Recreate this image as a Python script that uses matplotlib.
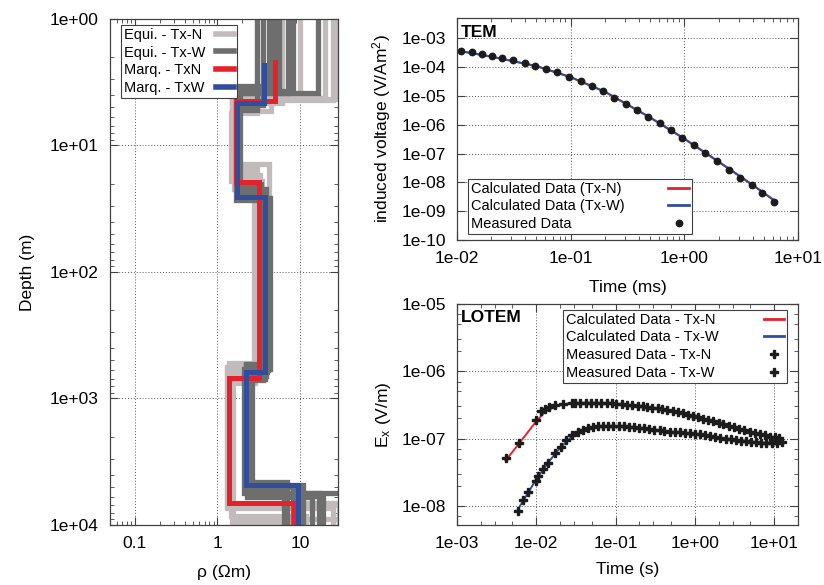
import matplotlib
matplotlib.use("Agg")
import matplotlib.pyplot as plt
from matplotlib.ticker import LogLocator, FuncFormatter, NullFormatter

plt.rcParams["font.family"] = ["Liberation Sans", "DejaVu Sans"]
plt.rcParams["mathtext.fontset"] = "custom"
plt.rcParams["mathtext.rm"] = "Liberation Sans"
plt.rcParams["mathtext.it"] = "Liberation Sans:italic"

# --- 1D models: layer resistivities (Ohm m) and interface depths (m) ---
equi_txn_rho = [
    [25, 1.50, 3.0, 1.30, 40],
    [20, 1.55, 3.3, 1.35, 30],
    [10, 1.60, 2.8, 1.45, 12],
    [3.0, 1.47, 3.5, 1.30, 25],
    [4.5, 1.60, 3.8, 1.50, 8],
    [27, 1.50, 4.2, 1.40, 18],
    [6.0, 1.65, 2.9, 1.55, 50],
]
equi_txn_depth = [
    [4.4, 15, 580, 7000],
    [4.2, 17, 600, 6700],
    [4.0, 16, 650, 8500],
    [5.5, 19, 560, 7300],
    [5.3, 22, 700, 9600],
    [4.3, 14, 520, 6900],
    [4.6, 18, 750, 9000],
]
equi_txw_rho = [
    [3.0, 1.80, 3.5, 2.20, 7.0],
    [3.6, 1.70, 4.0, 2.40, 8.2],
    [4.2, 1.75, 3.8, 2.50, 17],
    [4.9, 1.85, 4.3, 2.10, 40],
    [5.6, 1.90, 3.6, 2.60, 11],
    [7.2, 1.70, 3.9, 2.30, 14],
    [8.2, 1.80, 3.4, 2.20, 6.5],
    [16.5, 1.75, 4.1, 2.45, 19],
]
equi_txw_depth = [
    [5.2, 25, 530, 4600],
    [4.8, 27, 620, 5000],
    [3.4, 23, 700, 5600],
    [3.6, 26, 580, 5600],
    [3.8, 24, 720, 4800],
    [3.85, 22, 660, 6000],
    [3.7, 20, 540, 5200],
    [3.85, 26, 600, 5900],
]
marq_txn_rho = [5.0, 1.69, 3.2, 1.40, 8.5]
marq_txn_depth = [4.45, 19.4, 689, 6700]
marq_txw_rho = [3.7, 1.74, 3.8, 2.24, 9.4]
marq_txw_depth = [4.6, 25.5, 617, 4830]

# --- TEM transient (time in ms) ---
tem_t = [0.0109, 0.01355, 0.0166, 0.0203, 0.0249, 0.0313, 0.0394, 0.0489, 0.0611,
         0.0764, 0.0967, 0.1225, 0.154, 0.194, 0.242, 0.305, 0.384, 0.482, 0.607,
         0.758, 0.953, 1.21, 1.52, 1.92, 2.45, 3.09, 3.91, 4.85, 6.11]
tem_meas = [3.52e-4, 3.25e-4, 2.77e-4, 2.35e-4, 2.0e-4, 1.71e-4, 1.38e-4, 1.11e-4,
            8.5e-5, 6.5e-5, 4.6e-5, 3.16e-5, 2.12e-5, 1.42e-5, 8.7e-6, 5.4e-6,
            3.25e-6, 1.9e-6, 1.11e-6, 6.3e-7, 3.5e-7, 1.9e-7, 1.05e-7, 5.5e-8,
            2.77e-8, 1.46e-8, 8.1e-9, 4.25e-9, 2.12e-9]
tem_calc_t = [0.0105, 0.02, 0.05, 0.1, 0.2, 0.5, 1.0, 2.0, 4.0, 6.3]
tem_calc_txn = [3.6e-4, 2.3e-4, 1.07e-4, 4.4e-5, 1.37e-5, 1.75e-6, 3.2e-7, 5.1e-8, 7.9e-9, 2.3e-9]
tem_calc_txw = [3.6e-4, 2.3e-4, 1.08e-4, 4.5e-5, 1.4e-5, 1.8e-6, 3.3e-7, 5.3e-8, 8.2e-9, 2.2e-9]

# --- LOTEM transients (time in s) ---
lotem_txn_t = [0.0041, 0.0061, 0.01005, 0.0116, 0.0128, 0.0144, 0.0171, 0.0218, 0.0283,
               0.031, 0.036, 0.042, 0.049, 0.057, 0.066, 0.077, 0.089, 0.10, 0.12,
               0.14, 0.16, 0.19, 0.22, 0.25, 0.29, 0.34, 0.39, 0.45, 0.53, 0.61,
               0.71, 0.82, 0.95, 1.1, 1.28, 1.48, 1.72, 2.0, 2.3, 2.7, 3.1, 3.6,
               4.2, 4.9, 5.7, 6.6, 7.6, 8.8, 10.2, 11.5]
lotem_txn = [5.2e-8, 8.7e-8, 1.88e-7, 2.58e-7, 2.74e-7, 2.96e-7, 3.14e-7, 3.25e-7, 3.38e-7,
             3.40e-7, 3.42e-7, 3.42e-7, 3.41e-7, 3.40e-7, 3.38e-7, 3.36e-7, 3.33e-7, 3.31e-7,
             3.25e-7, 3.2e-7, 3.15e-7, 3.07e-7, 3.0e-7, 2.94e-7, 2.87e-7, 2.8e-7, 2.73e-7,
             2.65e-7, 2.56e-7, 2.47e-7, 2.37e-7, 2.26e-7, 2.17e-7, 2.07e-7, 1.97e-7,
             1.88e-7, 1.8e-7, 1.72e-7, 1.63e-7, 1.54e-7, 1.46e-7, 1.4e-7, 1.32e-7,
             1.25e-7, 1.2e-7, 1.15e-7, 1.11e-7, 1.07e-7, 1.05e-7, 1.03e-7]
lotem_txw_t = [0.0059, 0.0068, 0.0079, 0.0098, 0.0105, 0.0122, 0.0141, 0.0171, 0.0203,
               0.024, 0.0283, 0.0336, 0.039, 0.045, 0.052, 0.06, 0.07, 0.081, 0.094,
               0.11, 0.127, 0.147, 0.17, 0.197, 0.23, 0.265, 0.31, 0.36, 0.41, 0.48,
               0.56, 0.65, 0.75, 0.87, 1.0, 1.17, 1.35, 1.57, 1.82, 2.1, 2.45, 2.85,
               3.3, 3.8, 4.4, 5.1, 5.9, 6.9, 8.0, 9.3, 10.8, 12.5]
lotem_txw = [8.4e-9, 1.21e-8, 1.61e-8, 2.35e-8, 2.76e-8, 3.47e-8, 4.36e-8, 6.0e-8, 7.5e-8,
             9.5e-8, 1.12e-7, 1.26e-7, 1.36e-7, 1.43e-7, 1.48e-7, 1.52e-7, 1.54e-7, 1.55e-7,
             1.55e-7, 1.54e-7, 1.52e-7, 1.5e-7, 1.48e-7, 1.45e-7, 1.42e-7, 1.39e-7, 1.36e-7,
             1.33e-7, 1.3e-7, 1.27e-7, 1.25e-7, 1.23e-7, 1.21e-7, 1.19e-7, 1.17e-7, 1.15e-7,
             1.12e-7, 1.09e-7, 1.06e-7, 1.03e-7, 1.0e-7, 9.7e-8, 9.5e-8, 9.3e-8, 9.1e-8,
             8.9e-8, 8.8e-8, 8.7e-8, 8.6e-8, 8.6e-8, 8.7e-8, 8.9e-8]
lotem_calc_txn_t = [0.0041, 0.006, 0.01, 0.013, 0.018, 0.025, 0.04, 0.07, 0.1, 0.2, 0.5, 1, 2, 4, 7, 11]
lotem_calc_txn = [4.7e-8, 8.3e-8, 1.8e-7, 2.5e-7, 3.05e-7, 3.3e-7, 3.4e-7, 3.37e-7, 3.3e-7,
                  3.02e-7, 2.58e-7, 2.15e-7, 1.72e-7, 1.33e-7, 1.12e-7, 1.02e-7]
lotem_calc_txw_t = [0.0059, 0.008, 0.01, 0.015, 0.02, 0.03, 0.045, 0.07, 0.1, 0.2, 0.5, 1, 2, 4, 7, 12]
lotem_calc_txw = [9e-9, 1.6e-8, 2.5e-8, 4.8e-8, 7.3e-8, 1.15e-7, 1.43e-7, 1.53e-7, 1.54e-7,
                  1.45e-7, 1.26e-7, 1.17e-7, 1.04e-7, 9.2e-8, 8.7e-8, 8.8e-8]

LIGHT = "#c2bbbb"
DARK = "#6e6e6e"
RED = "#e8202a"
BLUE = "#2f4f9e"
PT = "#1c1c1c"
FS = 12.5
LFS = 10.5


def step_profile(rho, depth, top, bottom=1.3e4):
    xs, ys = [rho[0]], [top]
    for i, d in enumerate(depth):
        xs += [rho[i], rho[i + 1]]
        ys += [d, d]
    xs.append(rho[-1])
    ys.append(bottom)
    return xs, ys


def style_axes(ax):
    for s in ax.spines.values():
        s.set_color("#404040")
        s.set_linewidth(0.9)
    ax.tick_params(which="both", direction="in", top=True, right=True,
                   colors="#404040", labelcolor="black", labelsize=FS, pad=8)
    ax.tick_params(which="major", length=6, width=0.8)
    ax.tick_params(which="minor", length=3, width=0.6)
    ax.grid(True, which="major", linestyle=(0, (1, 2)), color="#555555", linewidth=0.7)


def exp_fmt(v, pos):
    return "{:.0e}".format(v)


def key_legend(ax, handles, labels, row_width, hlen=1.4, **kw):
    # text on the left, sample on the right edge of each row
    leg = ax.legend(handles, labels, fontsize=LFS, markerfirst=False,
                    handlelength=hlen, handletextpad=0.5, labelspacing=0.25,
                    borderpad=0.2, borderaxespad=0, fancybox=False,
                    framealpha=1, **kw)
    for col in leg._legend_handle_box.get_children():
        for row in col.get_children():
            row.mode = "expand"
            row.width = row_width
    fr = leg.get_frame()
    fr.set_edgecolor("#404040")
    fr.set_linewidth(0.8)
    return leg


fig = plt.figure(figsize=(8.24, 5.85), dpi=100)

# resistivity models
ax1 = fig.add_axes([0.1335, 0.1026, 0.2767, 0.865])
for rho, dep in zip(equi_txn_rho, equi_txn_depth):
    x, y = step_profile(rho, dep, 0.9)
    ax1.plot(x, y, color=LIGHT, lw=3.8, solid_joinstyle="miter")
for rho, dep in zip(equi_txw_rho, equi_txw_depth):
    x, y = step_profile(rho, dep, 0.9)
    ax1.plot(x, y, color=DARK, lw=3.8, solid_joinstyle="miter")
x, y = step_profile(marq_txn_rho, marq_txn_depth, 2.2)
ax1.plot(x, y, color=RED, lw=3.6, solid_joinstyle="miter")
x, y = step_profile(marq_txw_rho, marq_txw_depth, 2.3)
ax1.plot(x, y, color=BLUE, lw=3.6, solid_joinstyle="miter")

ax1.set_xscale("log")
ax1.set_yscale("log")
ax1.set_xlim(0.05, 29)
ax1.set_ylim(1e4, 1)
ax1.xaxis.set_minor_locator(LogLocator(base=10, subs=range(2, 10)))
ax1.yaxis.set_minor_locator(LogLocator(base=10, subs=range(2, 10)))
ax1.set_xticks([0.1, 1, 10])
ax1.set_xticklabels(["0.1", "1", "10"])
ax1.xaxis.set_minor_formatter(NullFormatter())
ax1.set_yticks([1, 10, 100, 1000, 10000])
ax1.yaxis.set_major_formatter(FuncFormatter(exp_fmt))
ax1.yaxis.set_minor_formatter(NullFormatter())
style_axes(ax1)
ax1.set_xlabel("ρ (Ωm)", fontsize=FS, labelpad=10)
ax1.set_ylabel("Depth (m)", fontsize=FS, labelpad=11)
h = [plt.Line2D([], [], color=c, lw=4) for c in (LIGHT, DARK, RED, BLUE)]
key_legend(ax1, h, ["Equi. - Tx-N", "Equi. - Tx-W", "Marq. - TxN", "Marq. - TxW"],
           110, hlen=1.2, loc="upper left", bbox_to_anchor=(0.048, 0.988))

# TEM
ax2 = fig.add_axes([0.5546, 0.5897, 0.4138, 0.3795])
ax2.plot(tem_calc_t, tem_calc_txn, color=RED, lw=1.4)
ax2.plot(tem_calc_t, tem_calc_txw, color=BLUE, lw=1.4)
ax2.plot(tem_t, tem_meas, "o", color=PT, ms=4.6, ls="none")
ax2.set_xscale("log")
ax2.set_yscale("log")
ax2.set_xlim(1e-2, 1e1)
ax2.set_ylim(1e-10, 5e-3)
ax2.set_xticks([1e-2, 1e-1, 1e0, 1e1])
ax2.set_yticks([1e-10, 1e-9, 1e-8, 1e-7, 1e-6, 1e-5, 1e-4, 1e-3])
ax2.xaxis.set_minor_locator(LogLocator(base=10, subs=range(2, 10)))
ax2.yaxis.set_minor_locator(LogLocator(base=10, subs=(5,)))
ax2.xaxis.set_major_formatter(FuncFormatter(exp_fmt))
ax2.yaxis.set_major_formatter(FuncFormatter(exp_fmt))
ax2.xaxis.set_minor_formatter(NullFormatter())
ax2.yaxis.set_minor_formatter(NullFormatter())
style_axes(ax2)
ax2.set_xlabel("Time (ms)", fontsize=FS, labelpad=10)
ax2.set_ylabel("induced voltage (V/Am$^{2}$)", fontsize=FS, labelpad=6)
ax2.text(0.012, 0.97, "TEM", transform=ax2.transAxes, fontsize=FS,
         fontweight="bold", va="top", ha="left")
h = [plt.Line2D([], [], color=RED, lw=2),
     plt.Line2D([], [], color=BLUE, lw=2),
     plt.Line2D([], [], color=PT, marker="o", ms=4.6, ls="none")]
key_legend(ax2, h, ["Calculated Data (Tx-N)", "Calculated Data (Tx-W)", "Measured Data"],
           218, loc="lower left", bbox_to_anchor=(0.032, 0.027))

# LOTEM
ax3 = fig.add_axes([0.5546, 0.1026, 0.4138, 0.378])
ax3.plot(lotem_calc_txn_t, lotem_calc_txn, color=RED, lw=1.4)
ax3.plot(lotem_calc_txw_t, lotem_calc_txw, color=BLUE, lw=1.4)
ax3.plot(lotem_txn_t, lotem_txn, "P", color=PT, ms=5.5, ls="none")
ax3.plot(lotem_txw_t, lotem_txw, "P", color=PT, ms=5.5, ls="none")
ax3.set_xscale("log")
ax3.set_yscale("log")
ax3.set_xlim(1e-3, 20)
ax3.set_ylim(5.2e-9, 1e-5)
ax3.set_xticks([1e-3, 1e-2, 1e-1, 1e0, 1e1])
ax3.set_yticks([1e-8, 1e-7, 1e-6, 1e-5])
ax3.xaxis.set_minor_locator(LogLocator(base=10, subs=(2, 3, 5)))
ax3.yaxis.set_minor_locator(LogLocator(base=10, subs=(2, 3, 5, 7)))
ax3.xaxis.set_major_formatter(FuncFormatter(exp_fmt))
ax3.yaxis.set_major_formatter(FuncFormatter(exp_fmt))
ax3.xaxis.set_minor_formatter(NullFormatter())
ax3.yaxis.set_minor_formatter(NullFormatter())
style_axes(ax3)
ax3.set_xlabel("Time (s)", fontsize=FS, labelpad=8)
ax3.set_ylabel("E$_\\mathrm{x}$ (V/m)", fontsize=FS, labelpad=6)
ax3.text(0.012, 0.97, "LOTEM", transform=ax3.transAxes, fontsize=FS,
         fontweight="bold", va="top", ha="left")
h = [plt.Line2D([], [], color=RED, lw=2),
     plt.Line2D([], [], color=BLUE, lw=2),
     plt.Line2D([], [], color=PT, marker="P", ms=5.5, ls="none"),
     plt.Line2D([], [], color=PT, marker="P", ms=5.5, ls="none")]
key_legend(ax3, h, ["Calculated Data - Tx-N", "Calculated Data - Tx-W",
                    "Measured Data - Tx-N", "Measured Data - Tx-W"],
           218, loc="upper right", bbox_to_anchor=(0.968, 0.973))

fig.savefig("out.png", dpi=100)
